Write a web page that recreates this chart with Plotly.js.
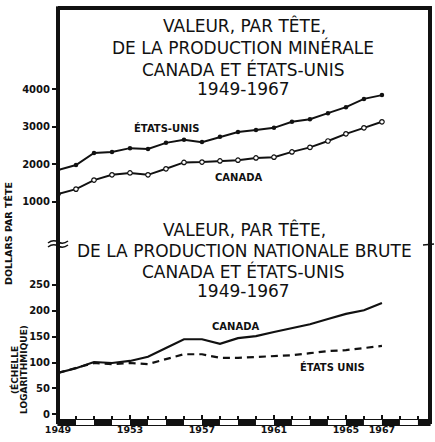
<!DOCTYPE html>
<html>
<head>
<meta charset="utf-8">
<script src="https://cdn.plot.ly/plotly-3.0.1.min.js"></script>
<style>html,body{margin:0;padding:0;background:#fff;}#chart{width:435px;height:442px;}</style>
</head>
<body>
<div id="chart"></div>
<script>
// ---- data ----
const years = [1949,1950,1951,1952,1953,1954,1955,1956,1957,1958,1959,1960,1961,1962,1963,1964,1965,1966,1967];
// Valeur par tête de la production minérale (dollars)
const mineralUS     = [1850,1980,2300,2330,2430,2410,2570,2650,2590,2730,2860,2910,2970,3130,3200,3360,3520,3740,3840];
const mineralCanada = [1210,1340,1580,1720,1770,1720,1880,2050,2060,2090,2110,2170,2190,2330,2450,2620,2810,2970,3130];
// Valeur par tête de la production nationale brute (échelle)
const gnpCanada = [80,89,101,99,103,111,128,145,145,136,147,151,159,167,174,184,194,201,215];
const gnpUS     = [80,89,99,97,99,97,107,116,116,109,109,111,113,114,118,122,124,128,132];
const xTickVals = [1949,1953,1957,1961,1965,1967];
const topTickVals = [1000,2000,3000,4000];
const botTickVals = [0,50,100,150,200,250];

// ---- layout helpers (pixel -> paper) ----
const W = 435, H = 442, ML = 58, MR = 5, MT = 8, MB = 20;
const PW = W - ML - MR, PH = H - MT - MB;
const px = x => (x - ML) / PW;
const py = y => (H - MB - y) / PH;
const split = py(243);

const FONT = '"DejaVu Sans", sans-serif';
const black = '#111';

const traces = [
  {x: years, y: mineralUS, xaxis: 'x', yaxis: 'y', mode: 'lines+markers',
   line: {color: black, width: 2}, marker: {symbol: 'circle', size: 4.5, color: black}, hoverinfo: 'skip'},
  {x: years, y: mineralCanada, xaxis: 'x', yaxis: 'y', mode: 'lines+markers',
   line: {color: black, width: 2}, marker: {symbol: 'circle', size: 4.5, color: '#fff', line: {color: black, width: 1.2}}, hoverinfo: 'skip'},
  {x: years, y: gnpCanada, xaxis: 'x', yaxis: 'y2', mode: 'lines',
   line: {color: black, width: 2.2}, hoverinfo: 'skip'},
  {x: years, y: gnpUS, xaxis: 'x', yaxis: 'y2', mode: 'lines',
   line: {color: black, width: 2.2, dash: '7px,5px'}, hoverinfo: 'skip'}
];

const shapes = [];
// frame
shapes.push({type: 'line', xref: 'paper', yref: 'paper', x0: 0, x1: 1.005, y0: 1, y1: 1, line: {color: black, width: 4}});
shapes.push({type: 'line', xref: 'paper', yref: 'paper', x0: 0, x1: 0, y0: py(245.5), y1: 1.004, line: {color: black, width: 4}});
shapes.push({type: 'line', xref: 'paper', yref: 'paper', x0: 0, x1: 0, y0: -0.005, y1: py(241.5), line: {color: black, width: 4}});
shapes.push({type: 'line', xref: 'paper', yref: 'paper', x0: 1, x1: 1, y0: -0.005, y1: 1.004, line: {color: black, width: 4}});
// axis break marks
shapes.push({type: 'path', xref: 'paper', yref: 'paper',
  path: `M ${px(48)},${py(243)} Q ${px(53)},${py(239)} ${px(58)},${py(242)} T ${px(68)},${py(241)}`,
  line: {color: black, width: 1.5}});
shapes.push({type: 'path', xref: 'paper', yref: 'paper',
  path: `M ${px(48)},${py(247)} Q ${px(53)},${py(243)} ${px(58)},${py(246)} T ${px(68)},${py(245)}`,
  line: {color: black, width: 1.5}});
shapes.push({type: 'path', xref: 'paper', yref: 'paper',
  path: `M ${px(423)},${py(245)} L ${px(434)},${py(244)}`,
  line: {color: black, width: 1.5}});
// bottom scale bar
shapes.push({type: 'rect', xref: 'paper', yref: 'paper', x0: 0, x1: 1, y0: py(425.5), y1: py(419.5),
  fillcolor: '#fff', line: {color: black, width: 1.2}});
for (let yr = years[0]; yr < 1970; yr += 2) {
  shapes.push({type: 'rect', xref: 'x', yref: 'paper', x0: yr, x1: Math.min(yr + 1, 1969.67), y0: py(425.5), y1: py(419.5),
    fillcolor: black, line: {width: 0}});
}

const ann = (text, x, y, size, weight, extra) => Object.assign({
  text: text, xref: 'paper', yref: 'paper', x: px(x), y: py(y), xanchor: 'center', yanchor: 'middle',
  showarrow: false, font: {family: FONT, size: size, color: black, weight: weight}
}, extra || {});

const annotations = [
  ann('VALEUR, PAR TÊTE,', 244, 26, 17, 400),
  ann('DE LA PRODUCTION MINÉRALE', 243, 48, 17, 400),
  ann('CANADA ET ÉTATS-UNIS', 243, 69, 17, 400),
  ann('1949-1967', 243, 89, 17, 400),
  ann('VALEUR, PAR TÊTE,', 244, 230, 17, 400),
  ann('DE LA PRODUCTION NATIONALE BRUTE', 244, 251, 17, 400),
  ann('CANADA ET ÉTATS-UNIS', 243, 271, 17, 400),
  ann('1949-1967', 243, 291, 17, 400),
  ann('ÉTATS-UNIS', 166, 128, 10, 700),
  ann('CANADA', 238, 177, 10, 700),
  ann('CANADA', 235, 326, 10, 700),
  ann('ÉTATS UNIS', 332, 367, 10, 700),
  ann('DOLLARS PAR TÊTE', 8, 234, 9.5, 700, {textangle: -90}),
  ann('(ÉCHELLE', 14, 370, 9, 700, {textangle: -90}),
  ann('LOGARITHMIQUE)', 24, 370, 9, 700, {textangle: -90})
];

const tickFont = {family: FONT, size: 10, color: black, weight: 700};
const yCommon = {showgrid: false, zeroline: false, showline: false, ticks: 'outside', ticklen: 5, tickwidth: 2,
  tickcolor: black, tickfont: tickFont, fixedrange: true};

const layout = {
  width: W, height: H, margin: {l: ML, r: MR, t: MT, b: MB, pad: 0},
  paper_bgcolor: '#fff', plot_bgcolor: '#fff', showlegend: false,
  xaxis: {range: [1949, 1969.67], anchor: 'y2', showgrid: false, zeroline: false, showline: false,
    tickvals: xTickVals, ticks: 'inside', ticklen: 7, tickwidth: 1.5, tickcolor: black,
    minor: {dtick: 1, tick0: 1949, ticks: 'inside', ticklen: 6, tickwidth: 1.2, tickcolor: black},
    tickfont: {family: FONT, size: 9.5, color: black, weight: 700}, fixedrange: true},
  yaxis: Object.assign({}, yCommon, {domain: [split, 1], range: [-93, 6157], tickvals: topTickVals, anchor: 'x'}),
  yaxis2: Object.assign({}, yCommon, {domain: [0, split], range: [-15, 331], tickvals: botTickVals, anchor: 'x'}),
  yaxis3: Object.assign({}, yCommon, {overlaying: 'y', side: 'right', range: [-93, 6157], tickvals: topTickVals,
    ticks: 'inside', showticklabels: false, anchor: 'x'}),
  yaxis4: Object.assign({}, yCommon, {overlaying: 'y2', side: 'right', range: [-15, 331], tickvals: botTickVals,
    ticks: 'inside', showticklabels: false, anchor: 'x'}),
  shapes: shapes,
  annotations: annotations
};

Plotly.newPlot('chart', traces, layout, {staticPlot: true, displayModeBar: false});
</script>
</body>
</html>
